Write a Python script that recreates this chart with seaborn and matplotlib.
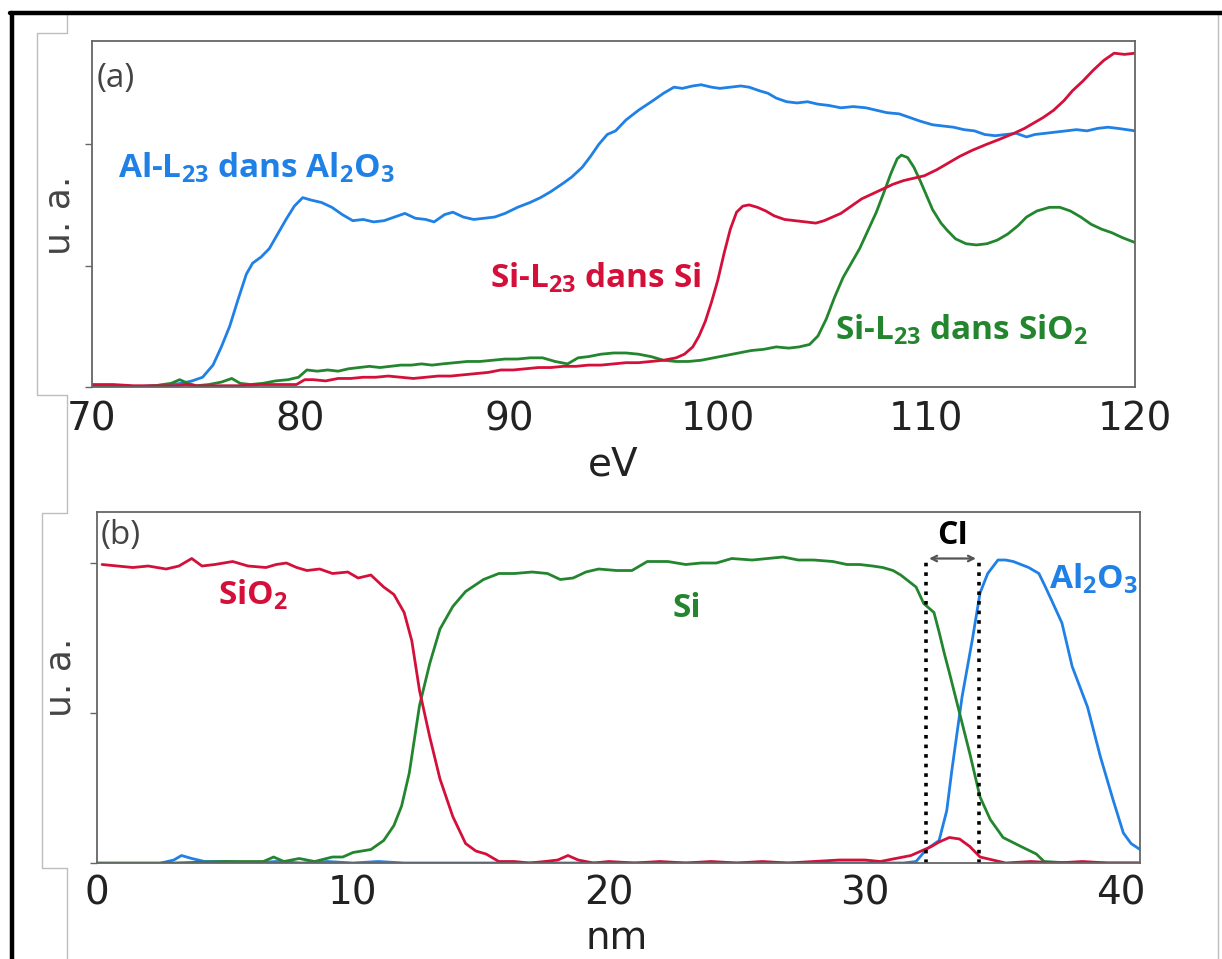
import numpy as np
import matplotlib
matplotlib.use("Agg")
import matplotlib.pyplot as plt
from matplotlib.lines import Line2D
import seaborn as sns

# ---- panel (a): EELS spectra (eV, u. a.) ----
ev_al = [70.0, 71.0, 72.0, 73.0, 73.8, 74.3, 74.8, 75.3, 75.8, 76.2, 76.6, 77.0, 77.4, 77.7, 78.1,
         78.5, 78.9, 79.3, 79.7, 80.1, 80.5, 81.0, 81.5, 82.0, 82.5, 83.0, 83.5, 84.0, 84.5, 85.0,
         85.5, 86.0, 86.4, 86.9, 87.3, 87.8, 88.3, 88.8, 89.3, 89.8, 90.4, 91.0, 91.5, 92.0, 92.6,
         93.0, 93.5, 93.9, 94.3, 94.7, 95.1, 95.6, 96.2, 96.9, 97.4, 97.9, 98.3, 98.8, 99.2, 99.7,
         100.1, 100.6, 101.1, 101.5, 102.0, 102.4, 102.8, 103.3, 103.8, 104.3, 104.8, 105.3, 105.9,
         106.5, 107.1, 107.6, 108.1, 108.7, 109.2, 109.7, 110.3, 110.8, 111.3, 111.8, 112.3, 112.8,
         113.3, 113.8, 114.3, 114.8, 115.2, 115.7, 116.2, 116.7, 117.2, 117.7, 118.2, 118.7, 119.2,
         119.6, 120.0]
al_l23 = [0.01, 0.01, 0.00, 0.01, 0.02, 0.03, 0.05, 0.08, 0.18, 0.33, 0.50, 0.72, 0.93, 1.02, 1.07,
          1.14, 1.26, 1.38, 1.49, 1.56, 1.54, 1.52, 1.48, 1.42, 1.37, 1.38, 1.36, 1.37, 1.40, 1.43,
          1.39, 1.38, 1.36, 1.42, 1.44, 1.40, 1.38, 1.39, 1.40, 1.43, 1.48, 1.52, 1.56, 1.61, 1.68,
          1.73, 1.81, 1.90, 2.00, 2.08, 2.11, 2.20, 2.28, 2.36, 2.42, 2.47, 2.46, 2.48, 2.49, 2.47,
          2.46, 2.47, 2.48, 2.47, 2.44, 2.42, 2.38, 2.35, 2.34, 2.35, 2.33, 2.32, 2.30,
          2.31, 2.30, 2.28, 2.26, 2.25, 2.22, 2.19, 2.16, 2.15, 2.14, 2.12, 2.11, 2.08,
          2.07, 2.08, 2.09, 2.06, 2.08, 2.09, 2.10, 2.11, 2.12, 2.11, 2.13, 2.14, 2.13,
          2.12, 2.11]

ev_si = [70.0, 71.0, 72.0, 73.0, 74.0, 74.5, 75.0, 76.0, 77.0, 78.0, 79.0, 79.8, 80.2, 80.6, 81.2,
         81.8, 82.4, 83.0, 83.6, 84.2, 84.8, 85.4, 86.0, 86.6, 87.2, 87.8, 88.4, 89.0, 89.6, 90.2,
         90.8, 91.4, 92.0, 92.6, 93.2, 93.8, 94.4, 95.0, 95.6, 96.2, 96.8, 97.4, 98.0, 98.4, 98.8,
         99.1, 99.4, 99.7, 100.0, 100.3, 100.6, 100.9, 101.2, 101.5, 101.9, 102.3, 102.7, 103.2,
         103.7, 104.2, 104.7, 105.1, 105.5, 105.9, 106.4, 106.9, 107.4, 107.9, 108.4, 108.9, 109.4,
         109.9, 110.5, 111.0, 111.6, 112.2, 112.9, 113.5, 114.2, 114.7, 115.1, 115.6, 116.1, 116.6,
         117.0, 117.5, 118.0, 118.5, 119.0, 119.5, 120.0]
si_l23_si = [0.02, 0.02, 0.01, 0.01, 0.01, 0.02, 0.01, 0.01, 0.01, 0.02, 0.02, 0.02, 0.06, 0.06, 0.05,
             0.07, 0.07, 0.08, 0.08, 0.09, 0.08, 0.07, 0.08, 0.09, 0.09, 0.10, 0.11, 0.12, 0.14, 0.14,
             0.15, 0.16, 0.16, 0.17, 0.17, 0.18, 0.18, 0.19, 0.20, 0.20, 0.21, 0.22, 0.24, 0.27, 0.33,
             0.42, 0.54, 0.70, 0.88, 1.10, 1.30, 1.44, 1.49, 1.50, 1.48, 1.45, 1.41, 1.38,
             1.37, 1.36, 1.35, 1.37, 1.40, 1.43, 1.49, 1.55, 1.59, 1.63, 1.67, 1.70, 1.72,
             1.74, 1.79, 1.84, 1.90, 1.95, 2.00, 2.04, 2.09, 2.13, 2.17, 2.22, 2.28, 2.36,
             2.44, 2.52, 2.61, 2.69, 2.75, 2.74, 2.75]

ev_sio2 = [70.0, 71.0, 72.0, 73.0, 73.8, 74.2, 74.6, 75.0, 75.6, 76.2, 76.7, 77.1, 77.6, 78.2, 78.8,
           79.4, 79.9, 80.3, 80.8, 81.3, 81.8, 82.3, 82.8, 83.3, 83.8, 84.3, 84.8, 85.3, 85.8, 86.3,
           86.8, 87.4, 88.0, 88.6, 89.2, 89.8, 90.4, 91.0, 91.6, 92.2, 92.8, 93.3, 93.8, 94.4, 95.0,
           95.6, 96.2, 96.8, 97.4, 98.0, 98.6, 99.2, 99.8, 100.4, 101.0, 101.6, 102.2, 102.8, 103.4,
           103.9, 104.4, 104.8, 105.2, 105.6, 106.0, 106.4, 106.8, 107.2, 107.6, 108.0, 108.3, 108.6,
           108.8, 109.1, 109.4, 109.7, 110.0, 110.3, 110.7, 111.0, 111.4, 111.9, 112.4, 112.9, 113.4,
           113.9, 114.4, 114.8, 115.3, 115.9, 116.4, 116.9, 117.4, 117.9, 118.4, 118.9, 119.4, 120.0]
si_l23_sio2 = [0.01, 0.01, 0.00, 0.01, 0.03, 0.06, 0.03, 0.01, 0.02, 0.04, 0.07, 0.03, 0.02, 0.03, 0.05,
               0.06, 0.08, 0.14, 0.13, 0.14, 0.13, 0.15, 0.16, 0.17, 0.16, 0.17, 0.18, 0.18, 0.19, 0.18,
               0.19, 0.20, 0.21, 0.21, 0.22, 0.23, 0.23, 0.24, 0.24, 0.21, 0.19, 0.24, 0.25, 0.27, 0.28,
               0.28, 0.27, 0.25, 0.22, 0.21, 0.21, 0.22, 0.24, 0.26, 0.28, 0.30, 0.31, 0.33, 0.32,
               0.33, 0.35, 0.42, 0.56, 0.74, 0.90, 1.02, 1.14, 1.29, 1.44, 1.62, 1.76, 1.88,
               1.91, 1.89, 1.81, 1.70, 1.58, 1.46, 1.35, 1.29, 1.22, 1.18, 1.17, 1.18, 1.21,
               1.26, 1.33, 1.40, 1.45, 1.48, 1.48, 1.45, 1.40, 1.34, 1.30, 1.27, 1.23, 1.19]

# ---- panel (b): profiles along the line (nm, u. a.) ----
nm_sio2 = [0.2, 0.8, 1.4, 2.0, 2.7, 3.2, 3.7, 4.1, 4.6, 5.3, 5.9, 6.6, 7.0, 7.4, 7.8, 8.2, 8.7, 9.2,
           9.8, 10.2, 10.7, 11.2, 11.6, 12.0, 12.3, 12.6, 13.0, 13.4, 13.9, 14.4, 14.8, 15.2, 15.7,
           16.3, 16.9, 17.5, 18.0, 18.4, 18.8, 19.4, 20.0, 21.0, 22.0, 23.0, 24.0, 25.0, 26.0, 27.0,
           28.0, 29.0, 30.0, 30.6, 31.2, 31.8, 32.2, 32.6, 32.9, 33.3, 33.7, 34.1, 34.5, 35.0, 35.5,
           36.5, 37.5, 38.5, 39.5, 40.75]
prof_sio2 = [1.99, 1.98, 1.97, 1.98, 1.96, 1.98, 2.03, 1.98, 1.99, 2.01, 1.98, 1.97, 1.99, 2.00, 1.97,
             1.95, 1.96, 1.93, 1.94, 1.90, 1.92, 1.84, 1.79, 1.67, 1.48, 1.15, 0.84, 0.56, 0.31, 0.13,
             0.08, 0.06, 0.01, 0.01, 0.00, 0.01, 0.02, 0.05, 0.02, 0.00, 0.01, 0.00, 0.01, 0.00, 0.01,
             0.00, 0.01, 0.00, 0.01, 0.02, 0.02, 0.01, 0.03, 0.05, 0.08, 0.11, 0.14, 0.17, 0.16, 0.11,
             0.04, 0.02, 0.00, 0.01, 0.00, 0.01, 0.00, 0.00]

nm_si = [0.0, 3.0, 5.0, 6.5, 6.9, 7.3, 7.9, 8.5, 9.2, 9.6, 10.0, 10.7, 11.2, 11.6, 11.9, 12.2, 12.6,
         13.0, 13.4, 13.9, 14.4, 15.1, 15.7, 16.3, 17.0, 17.6, 18.1, 18.6, 19.1, 19.6, 20.3, 20.9,
         21.5, 22.3, 23.0, 23.6, 24.2, 24.8, 25.6, 26.2, 26.8, 27.4, 28.0, 28.75, 29.3, 29.8, 30.3,
         30.7, 31.1, 31.4, 31.7, 32.0, 32.3, 32.7, 32.9, 33.1, 33.3, 33.7, 34.1, 34.5, 34.9, 35.4,
         36.1, 36.7, 37.0, 38.0, 39.0, 40.75]
prof_si = [0.00, 0.00, 0.01, 0.01, 0.04, 0.01, 0.03, 0.01, 0.04, 0.04, 0.07, 0.09, 0.15, 0.25, 0.38,
           0.60, 1.05, 1.33, 1.56, 1.71, 1.81, 1.89, 1.93, 1.93, 1.94, 1.93, 1.89, 1.90, 1.94, 1.96,
           1.95, 1.95, 2.01, 2.01, 1.99, 2.00, 2.00, 2.03, 2.02, 2.03, 2.04, 2.02, 2.02, 2.01, 1.99,
           1.99, 1.98, 1.97, 1.95, 1.92, 1.88, 1.84, 1.73, 1.67, 1.54, 1.40, 1.27, 1.00, 0.73, 0.44,
           0.29, 0.17, 0.11, 0.06, 0.01, 0.00, 0.00, 0.00]

nm_al = [2.5, 3.0, 3.3, 3.7, 4.2, 5.0, 6.0, 7.0, 8.0, 9.0, 10.0, 11.0, 12.0, 14.0, 20.0, 26.0, 31.5,
         32.0, 32.4, 32.9, 33.2, 33.4, 33.8, 34.2, 34.5, 34.8, 35.2, 35.5, 35.8, 36.1, 36.4, 36.8,
         37.0, 37.3, 37.7, 38.1, 38.7, 39.2, 39.7, 40.1, 40.4, 40.75]
prof_al = [0.00, 0.02, 0.05, 0.03, 0.01, 0.01, 0.00, 0.01, 0.00, 0.01, 0.00, 0.01, 0.00, 0.00, 0.00,
           0.00, 0.00, 0.01, 0.09, 0.15, 0.35, 0.62, 1.11, 1.49, 1.80, 1.93, 2.02, 2.02, 2.01, 1.99,
           1.97, 1.93, 1.86, 1.75, 1.60, 1.31, 1.04, 0.71, 0.42, 0.20, 0.13, 0.09]

ci_left, ci_right, ci_top = 32.4, 34.45, 2.03

blue = "#1f80e6"
red = "#d4103a"
green = "#23862f"

sns.set_style("white")
plt.rcParams["font.family"] = ["DejaVu Sans"]
plt.rcParams["mathtext.default"] = "regular"

fig = plt.figure(figsize=(12.22, 9.59), dpi=100)
ax1 = fig.add_axes([0.0753, 0.5965, 0.8535, 0.3607])
ax2 = fig.add_axes([0.0794, 0.1001, 0.8535, 0.3660])

lw = 2.0
sns.lineplot(x=ev_al, y=al_l23, ax=ax1, color=blue, lw=lw, sort=False)
sns.lineplot(x=ev_sio2, y=si_l23_sio2, ax=ax1, color=green, lw=lw, sort=False)
sns.lineplot(x=ev_si, y=si_l23_si, ax=ax1, color=red, lw=lw, sort=False)

sns.lineplot(x=nm_al, y=prof_al, ax=ax2, color=blue, lw=lw, sort=False)
sns.lineplot(x=nm_si, y=prof_si, ax=ax2, color=green, lw=lw, sort=False)
sns.lineplot(x=nm_sio2, y=prof_sio2, ax=ax2, color=red, lw=lw, sort=False)

ax1.set_xlim(70, 120)
ax1.set_ylim(0, 2.85)
ax1.set_xticks([70, 80, 90, 100, 110, 120])
ax2.set_xlim(0, 40.75)
ax2.set_ylim(0, 2.34)
ax2.set_xticks([0, 10, 20, 30, 40])

for ax in (ax1, ax2):
    ax.set_yticks([0, 1, 2])
    ax.set_yticklabels([])
    for sp in ax.spines.values():
        sp.set_color("#666666")
        sp.set_linewidth(1.3)
    ax.tick_params(axis="x", direction="in", length=5, width=1, color="#666666",
                   labelsize=28, labelcolor="#222222")
    ax.tick_params(axis="y", direction="out", length=5, width=1, color="#666666", left=True)
ax1.tick_params(axis="x", pad=10)
ax2.tick_params(axis="x", pad=8)

ax1.set_xlabel("eV", fontsize=28, color="#222222")
ax1.xaxis.set_label_coords(0.4995, -0.225)
ax1.xaxis.label.set_va("center")
ax2.set_xlabel("nm", fontsize=28, color="#222222")
ax2.xaxis.set_label_coords(0.4986, -0.215)
ax2.xaxis.label.set_va("center")

ax1.set_ylabel("u. a.", fontsize=26, color="#444444")
ax1.yaxis.set_label_coords(-0.031, 0.497)
ax1.yaxis.label.set_va("center")
ax2.set_ylabel("u. a.", fontsize=26, color="#444444")
ax2.yaxis.set_label_coords(-0.035, 0.53)
ax2.yaxis.label.set_va("center")

ax1.text(0.004, 0.893, "(a)", transform=ax1.transAxes, fontsize=24, color="#444444",
         family="Open Sans", va="center", ha="left")
ax2.text(0.003, 0.932, "(b)", transform=ax2.transAxes, fontsize=24, color="#444444",
         family="Open Sans", va="center", ha="left")

lab = dict(family="Open Sans", fontweight="bold", fontsize=24, va="baseline", ha="left")
ax1.text(71.25, 1.728, r"Al-L$_{23}$ dans Al$_2$O$_3$", color=blue, **lab)
ax1.text(89.1, 0.815, r"Si-L$_{23}$ dans Si", color=red, **lab)
ax1.text(105.6, 0.387, r"Si-L$_{23}$ dans SiO$_2$", color=green, **lab)

ax2.text(4.73, 1.72, r"SiO$_2$", color=red, **lab)
ax2.text(22.5, 1.64, "Si", color=green, **lab)
ax2.text(37.2, 1.83, r"Al$_2$O$_3$", color=blue, **lab)

# interface width marker
ax2.vlines([ci_left, ci_right], 0, ci_top, colors="black", linestyles=":", lw=2.6)
ax2.annotate("", xy=(ci_left, ci_top), xytext=(ci_right, ci_top),
             arrowprops=dict(arrowstyle="<->", color="#555555", lw=1.6))
ax2.text((ci_left + ci_right) / 2, 2.13, "CI", family="Open Sans", fontweight="bold",
         fontsize=23, color="black", ha="center", va="baseline")

# outer frame and light gray slide outlines
W, H = 1222.0, 959.0
def fline(xs, ys, **kw):
    fig.add_artist(Line2D([x / W for x in xs], [1 - y / H for y in ys], **kw))

gray = dict(color="#bdbdbd", lw=1.0)
fline([67, 67, 37, 37, 67, 67, 42, 42, 67, 67], [15, 33, 33, 395, 395, 513, 513, 868, 868, 959], **gray)
fline([1218, 1218], [15, 959], **gray)
fline([10, 1222], [13, 13], color="black", lw=3.2)
fline([12, 12], [13, 959], color="black", lw=3.2)

fig.savefig("out.png", dpi=100)
